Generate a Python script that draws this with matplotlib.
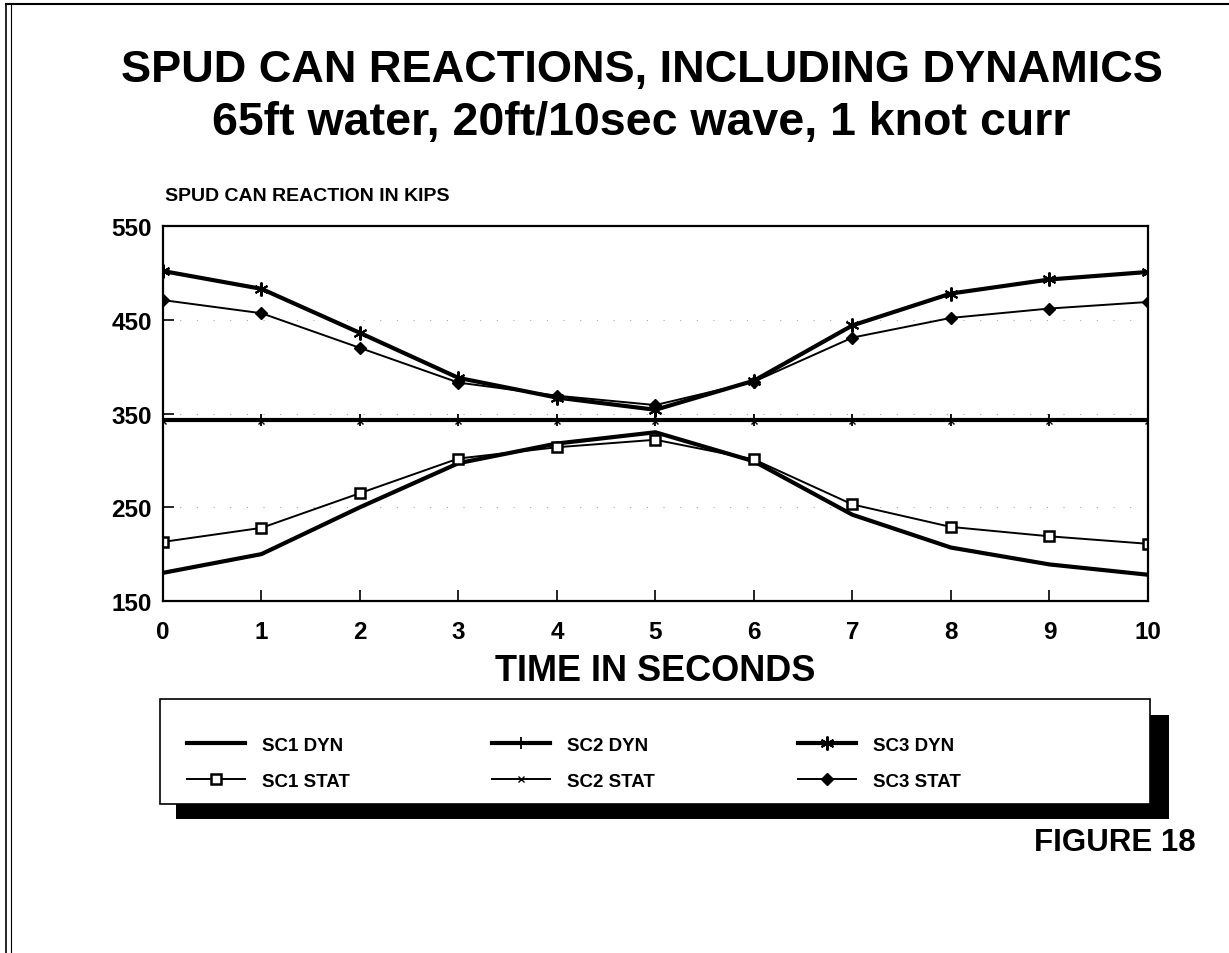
import numpy as np
import matplotlib
matplotlib.use("Agg")
import matplotlib.pyplot as plt
from matplotlib.patches import Rectangle
from matplotlib.lines import Line2D

plt.rcParams["font.family"] = ["Liberation Sans", "DejaVu Sans"]
plt.rcParams["font.weight"] = "bold"

# --- datos ---
time_s = [0, 1, 2, 3, 4, 5, 6, 7, 8, 9, 10]
sc1_dyn = [180, 200, 250, 297, 318, 330, 299, 242, 207, 189, 178]
sc1_stat = [213, 228, 265, 302, 314, 322, 301, 253, 229, 219, 211]
sc2_dyn = [343, 343, 343, 343, 343, 343, 343, 343, 343, 343, 343]
sc2_stat = [342, 342, 342, 342, 342, 342, 342, 342, 342, 342, 342]
sc3_dyn = [502, 483, 436, 388, 367, 354, 385, 444, 478, 493, 501]
sc3_stat = [471, 457, 420, 383, 369, 359, 384, 431, 452, 462, 469]
y_ticks = [150, 250, 350, 450, 550]

fig = plt.figure(figsize=(12.29, 9.54), dpi=100, facecolor="white")
ax = fig.add_axes([0.1326, 0.369, 0.8014, 0.393])

# cuadrícula punteada muy tenue
for yv in [250, 350, 450]:
    ax.axhline(yv, color="#aaaaaa", linestyle=(0, (1, 14)), linewidth=0.8, zorder=0)

star = (6, 2, 0)
ax.plot(time_s, sc1_dyn, color="black", lw=3.0, label="SC1 DYN")
ax.plot(time_s, sc1_stat, color="black", lw=1.4, marker="s", ms=7, mfc="white",
        mec="black", mew=1.8, label="SC1 STAT")
ax.plot(time_s, sc2_dyn, color="black", lw=3.0, marker="|", ms=9, mew=1.3, label="SC2 DYN")
ax.plot(time_s, sc2_stat, color="black", lw=1.4, marker="x", ms=5, mew=1.0, label="SC2 STAT")
ax.plot(time_s, sc3_dyn, color="black", lw=3.0, marker=star, ms=10, mew=1.5, label="SC3 DYN")
ax.plot(time_s, sc3_stat, color="black", lw=1.4, marker="D", ms=6, label="SC3 STAT")

ax.set_xlim(0, 10)
ax.set_ylim(150, 550)
ax.set_xticks(time_s)
ax.set_yticks(y_ticks)
ax.tick_params(direction="in", length=8, width=1.2, labelsize=17.5, pad=14)
ax.tick_params(axis="y", pad=8)
for lab in ax.get_xticklabels() + ax.get_yticklabels():
    lab.set_fontweight("bold")
for sp in ax.spines.values():
    sp.set_linewidth(1.6)

ax.set_xlabel("TIME IN SECONDS", fontsize=26, fontweight="bold", labelpad=7)
fig.text(0.134, 0.794, "SPUD CAN REACTION IN KIPS", fontsize=14, fontweight="bold",
         ha="left", va="center")

# títulos
fig.text(0.522, 0.926, "SPUD CAN REACTIONS, INCLUDING DYNAMICS", fontsize=32.5,
         fontweight="bold", ha="center", va="center")
fig.text(0.522, 0.871, "65ft water, 20ft/10sec wave, 1 knot curr", fontsize=33.5,
         fontweight="bold", ha="center", va="center")

# leyenda: marco blanco con sombra negra
fig.patches.append(Rectangle((0.143, 0.140), 0.808, 0.110, transform=fig.transFigure,
                             facecolor="black", edgecolor="none", zorder=1))
fig.patches.append(Rectangle((0.130, 0.156), 0.806, 0.110, transform=fig.transFigure,
                             facecolor="white", edgecolor="black", lw=1.2, zorder=2))
handles, labels = ax.get_legend_handles_labels()
leg = fig.legend(handles, labels, ncol=3, loc="center left",
                 bbox_to_anchor=(0.146, 0.199), borderaxespad=0, fontsize=13.5,
                 frameon=False, handlelength=3.1, labelspacing=1.0,
                 columnspacing=7.6, handletextpad=0.9)
leg.set_zorder(5)
for t in leg.get_texts():
    t.set_fontweight("bold")

fig.text(0.973, 0.116, "FIGURE 18", fontsize=22.5, fontweight="bold",
         ha="right", va="center")

# marco de la página
fig.add_artist(Line2D([0.005, 0.005], [0.0, 0.995], transform=fig.transFigure,
                      color="black", lw=1.2))
fig.add_artist(Line2D([0.009, 0.009], [0.0, 0.995], transform=fig.transFigure,
                      color="black", lw=0.8))
fig.add_artist(Line2D([0.005, 1.0], [0.995, 0.995], transform=fig.transFigure,
                      color="black", lw=1.5))

fig.savefig("out.png", dpi=100, facecolor="white")
